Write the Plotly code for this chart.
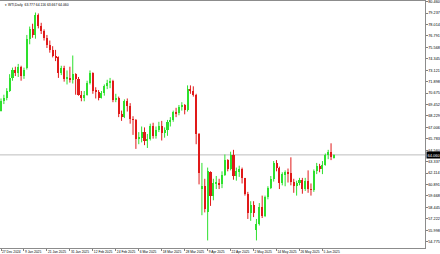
import plotly.graph_objects as go

# ---- data (WTI, Daily) ----
date_ticks = ["27 Dec 2024", "9 Jan 2025", "21 Jan 2025", "31 Jan 2025", "12 Feb 2025",
              "24 Feb 2025", "6 Mar 2025", "18 Mar 2025", "28 Mar 2025", "9 Apr 2025",
              "22 Apr 2025", "2 May 2025", "14 May 2025", "26 May 2025", "5 Jun 2025"]
date_tick_bar = [0, 8, 16, 24, 32, 40, 48, 56, 64, 72, 80, 88, 96, 104, 112]

opens = [68.8, 69.8, 70.2, 70.9, 72.3, 73.2, 72.8, 73.5, 72.5, 73.4,
         76.5, 77.5, 76.9, 79.0, 77.9, 77.3, 76.6, 75.8, 75.3, 74.7,
         74.5, 72.8, 73.4, 72.2, 72.3, 72.1, 72.7, 72.2, 70.5, 70.1,
         70.5, 71.8, 72.8, 70.9, 70.8, 70.2, 70.7, 71.4, 71.8, 72.0,
         69.9, 70.2, 68.4, 68.1, 69.8, 69.3, 67.9, 67.8, 65.8, 65.9,
         66.5, 65.5, 65.8, 67.2, 66.1, 66.7, 67.1, 66.4, 66.7, 67.6,
         67.8, 68.6, 68.5, 69.2, 69.4, 68.9, 71.1, 70.9, 70.5, 66.3,
         60.5, 60.7, 57.9, 62.2, 59.7, 61.0, 61.1, 60.9, 61.9, 63.5,
         62.6, 64.1, 61.8, 62.3, 62.5, 61.6, 59.9, 57.8, 58.7, 56.0,
         56.7, 58.5, 57.5, 59.6, 60.5, 61.5, 63.2, 62.7, 61.1, 62.0,
         62.2, 62.1, 61.2, 60.7, 61.0, 61.4, 60.4, 61.3, 60.4, 60.3,
         62.3, 62.9, 62.5, 63.0, 64.0, 64.4, 63.777]
highs = [70.1, 70.5, 71.2, 72.7, 73.4, 73.5, 73.8, 73.6, 73.4, 76.9,
         77.8, 78.1, 79.3, 79.2, 78.2, 77.5, 76.9, 76.3, 75.7, 75.3,
         74.6, 73.6, 73.6, 73.1, 73.5, 74.7, 72.8, 72.4, 70.9, 70.9,
         72.0, 73.1, 72.9, 71.3, 71.0, 70.9, 71.6, 72.1, 72.3, 72.1,
         70.6, 70.3, 68.8, 70.0, 70.1, 69.6, 68.2, 67.9, 66.5, 67.1,
         67.0, 66.3, 67.4, 67.5, 67.1, 67.6, 67.7, 67.0, 67.8, 68.1,
         68.8, 69.1, 69.4, 69.7, 69.5, 71.5, 71.5, 71.4, 70.6, 66.4,
         63.2, 61.5, 62.7, 62.3, 61.5, 61.8, 61.5, 62.3, 64.1, 63.6,
         64.4, 64.6, 62.7, 62.9, 62.7, 61.6, 60.1, 59.1, 59.1, 57.2,
         58.9, 59.7, 59.7, 60.7, 61.8, 63.4, 63.5, 62.8, 62.2, 62.4,
         62.6, 63.8, 61.5, 61.3, 61.6, 61.6, 61.6, 62.4, 61.0, 62.5,
         63.2, 63.1, 63.4, 64.2, 64.6, 65.3, 64.116]
lows = [68.7, 69.5, 69.9, 70.8, 72.0, 72.5, 72.4, 72.0, 72.2, 73.2,
        75.9, 76.6, 76.5, 77.6, 77.0, 76.3, 75.5, 75.0, 74.5, 74.1,
        72.3, 72.6, 71.9, 71.6, 71.8, 71.7, 70.5, 70.4, 69.8, 69.8,
        70.4, 71.6, 70.6, 70.1, 69.9, 70.1, 70.4, 71.1, 71.2, 69.7,
        69.7, 68.1, 67.7, 68.0, 68.7, 67.4, 66.2, 64.7, 65.2, 65.4,
        65.1, 64.8, 65.6, 65.8, 65.8, 66.5, 65.6, 65.9, 66.1, 67.1,
        67.6, 68.1, 68.3, 68.8, 68.4, 68.7, 70.6, 70.3, 65.2, 60.9,
        57.6, 57.9, 54.9, 58.6, 59.2, 60.4, 60.4, 60.5, 61.8, 62.3,
        62.4, 61.4, 61.3, 61.7, 61.0, 59.7, 57.2, 57.0, 57.4, 54.9,
        56.5, 57.3, 57.4, 59.3, 60.4, 61.2, 62.3, 60.4, 60.8, 60.7,
        61.1, 60.8, 60.0, 59.7, 60.8, 59.9, 60.2, 60.0, 59.7, 60.1,
        62.0, 62.2, 62.0, 62.9, 63.6, 63.5, 63.667]
closes = [69.8, 70.2, 70.9, 72.3, 73.2, 72.8, 73.5, 72.5, 73.1, 76.5,
          77.5, 76.9, 79.0, 77.9, 77.3, 76.6, 75.8, 75.3, 74.7, 74.5,
          72.8, 73.4, 72.2, 72.3, 72.1, 72.7, 72.2, 70.5, 70.1, 70.5,
          71.8, 72.8, 70.9, 70.8, 70.2, 70.7, 71.4, 71.8, 72.0, 69.9,
          70.2, 68.4, 68.1, 69.8, 69.3, 67.9, 67.8, 65.8, 65.9, 66.5,
          65.5, 65.8, 67.2, 66.1, 66.7, 67.1, 66.4, 66.7, 67.6, 67.8,
          68.6, 68.5, 69.2, 69.4, 68.9, 71.1, 70.9, 70.5, 66.3, 62.1,
          60.7, 58.3, 62.3, 59.7, 61.0, 61.1, 60.9, 61.9, 63.5, 62.6,
          64.1, 61.8, 62.3, 62.5, 61.6, 59.9, 57.8, 58.7, 57.8, 56.7,
          58.5, 57.5, 59.6, 60.5, 61.5, 63.2, 62.7, 61.1, 62.0, 62.2,
          62.1, 61.2, 60.7, 61.0, 61.4, 60.4, 61.3, 60.4, 60.3, 62.3,
          62.9, 62.5, 63.0, 64.0, 64.4, 63.8, 64.060]

price_ticks = [80.460, 79.237, 78.014, 76.791, 75.568, 74.345, 73.121, 71.898,
               70.675, 69.452, 68.229, 67.006, 65.783, 64.560, 63.337, 62.114,
               60.891, 59.668, 58.445, 57.222, 55.998, 54.775]
price_tick_text = ["80.460", "79.237", "78.014", "76.791", "75.568", "74.345", "73.121", "71.898",
                   "70.675", "69.452", "68.229", "67.006", "65.783", "64.560", "63.337", "62.114",
                   "60.891", "59.668", "58.445", "57.222", "55.998", "54.775"]
title_text = "▾ WTI,Daily  63.777 64.116 63.667 64.060"
bid_price = 64.060

UP = "#2EE02E"
DOWN = "#E01A1A"
FONT = "Liberation Sans"

bars = list(range(len(opens)))

fig = go.Figure()

# wicks
for up in (True, False):
    wx, wy = [], []
    for i, o, h, l, c in zip(bars, opens, highs, lows, closes):
        if (c >= o) == up:
            wx += [i, i, None]
            wy += [l, h, None]
    fig.add_trace(go.Scatter(x=wx, y=wy, mode="lines",
                             line=dict(color=UP if up else DOWN, width=1),
                             hoverinfo="skip", showlegend=False))

# bodies
fig.add_trace(go.Bar(
    x=bars,
    y=[max(abs(c - o), 0.05) for o, c in zip(opens, closes)],
    base=[min(o, c) for o, c in zip(opens, closes)],
    width=0.72,
    marker=dict(color=[UP if c >= o else DOWN for o, c in zip(opens, closes)], line=dict(width=0)),
    showlegend=False, hoverinfo="skip"))

# bid line
fig.add_shape(type="line", xref="paper", x0=0, x1=1, yref="y", y0=bid_price, y1=bid_price,
              line=dict(color="#BDBDBD", width=1), layer="below")

fig.add_annotation(xref="paper", x=1.0, xanchor="left", yref="y", y=bid_price, yanchor="middle",
                   text="%.3f" % bid_price, showarrow=False, bgcolor="#000000",
                   font=dict(family=FONT, size=4, color="#FFFFFF"),
                   borderpad=0.5, xshift=0.5)

fig.add_annotation(xref="paper", yref="paper", x=0.008, y=0.998, xanchor="left", yanchor="top",
                   text=title_text, showarrow=False,
                   font=dict(family=FONT, size=3.4, color="#000000"))

fig.update_layout(
    width=440, height=254,
    margin=dict(l=0, r=15, t=1, b=6, pad=0),
    paper_bgcolor="#FFFFFF", plot_bgcolor="#FFFFFF",
    bargap=0,
    xaxis=dict(range=[-0.35, 147.73], showgrid=False, zeroline=False,
               tickmode="array", tickvals=date_tick_bar, ticktext=date_ticks,
               tickangle=0, ticks="outside", ticklen=2, tickcolor="#808080",
               ticklabelposition="outside right",
               tickfont=dict(family=FONT, size=3.3, color="#000000"),
               showline=True, linecolor="#8C8C8C", linewidth=1, mirror=True),
    yaxis=dict(range=[54.09, 80.535], side="right", showgrid=False, zeroline=False,
               tickmode="array", tickvals=price_ticks, ticktext=price_tick_text,
               ticks="outside", ticklen=1.5, tickcolor="#808080",
               tickfont=dict(family=FONT, size=3.8, color="#000000"),
               showline=True, linecolor="#8C8C8C", linewidth=1, mirror=True),
)

fig.write_html("out.html")
